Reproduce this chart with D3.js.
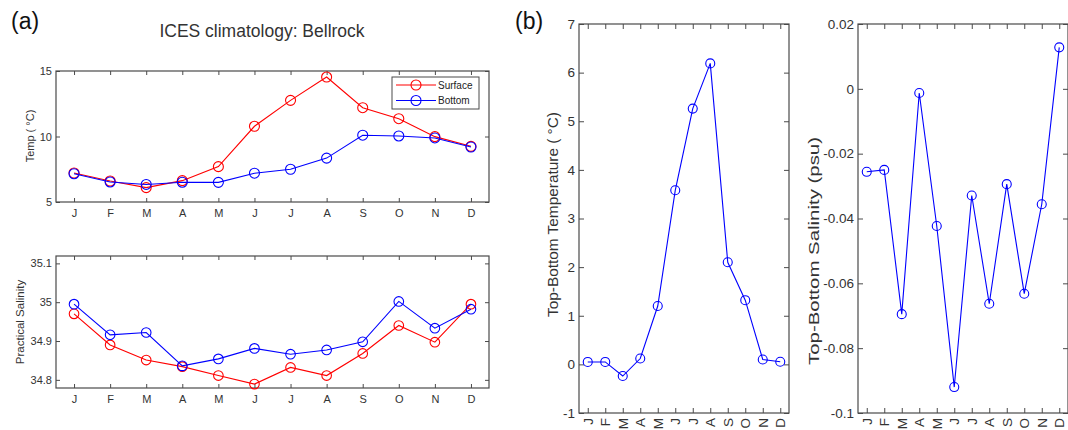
<!DOCTYPE html>
<html>
<head>
<meta charset="utf-8">
<script src="https://cdn.jsdelivr.net/npm/d3@7"></script>
<style>
  html, body { margin: 0; padding: 0; background: #fff; }
  svg { display: block; }
  text { font-family: "Liberation Sans", Arial, Helvetica, sans-serif; }
</style>
</head>
<body>
<svg id="fig" width="1068" height="430"></svg>
<script>
// Monthly climatology at Bellrock (ICES)
const months = ["J", "F", "M", "A", "M", "J", "J", "A", "S", "O", "N", "D"];

const tempSurface = [7.21, 6.60, 6.10, 6.63, 7.70, 10.78, 12.76, 14.54, 12.20, 11.36, 9.99, 9.25];
const tempBottom  = [7.16, 6.53, 6.34, 6.51, 6.50, 7.20, 7.50, 8.35, 10.10, 10.04, 9.89, 9.20];

const salSurface = [34.970, 34.890, 34.851, 34.834, 34.811, 34.789, 34.832, 34.811, 34.868, 34.940, 34.897, 34.995];
const salBottom  = [34.995, 34.916, 34.922, 34.836, 34.854, 34.881, 34.866, 34.877, 34.898, 35.002, 34.933, 34.982];

// Top minus bottom differences
const tempDiff = [0.05, 0.05, -0.24, 0.12, 1.20, 3.58, 5.26, 6.19, 2.10, 1.32, 0.10, 0.055];
const salDiff  = [-0.0256, -0.0250, -0.0695, -0.0013, -0.0423, -0.0920, -0.0329, -0.0663, -0.0294, -0.0632, -0.0356, 0.0128];

// Tick values
const tempTicks = [5, 10, 15];
const salTicks = [34.8, 34.9, 35, 35.1];
const tempDiffTicks = [-1, 0, 1, 2, 3, 4, 5, 6, 7];
const salDiffTicks = [-0.1, -0.08, -0.06, -0.04, -0.02, 0, 0.02];

const seriesColors = { surface: "#ff0000", bottom: "#0000ff" };
const axisColor = "#4a4a4a";
const textColor = "#333";
const fmt = d => String(+d.toFixed(3));

const svg = d3.select("#fig");

function panel(opts) {
  const { left, right, top, bottom, yDomain, yTicks, tick, fontSize, rotateMonths } = opts;
  const x = d3.scaleLinear().domain([0.5, 12.5]).range([left, right]);
  const y = d3.scaleLinear().domain(yDomain).range([bottom, top]);
  const idx = d3.range(1, 13);
  const g = svg.append("g");

  // inward ticks on all four sides
  const xb = g.append("g").attr("transform", `translate(0,${bottom})`)
    .call(d3.axisBottom(x).tickValues(idx).tickFormat(i => months[i - 1])
      .tickSizeInner(-tick).tickSizeOuter(0).tickPadding(7));
  g.append("g").attr("transform", `translate(0,${top})`)
    .call(d3.axisTop(x).tickValues(idx).tickFormat("").tickSizeInner(-tick).tickSizeOuter(0));
  g.append("g").attr("transform", `translate(${left},0)`)
    .call(d3.axisLeft(y).tickValues(yTicks).tickFormat(fmt)
      .tickSizeInner(-tick).tickSizeOuter(0).tickPadding(4));
  g.append("g").attr("transform", `translate(${right},0)`)
    .call(d3.axisRight(y).tickValues(yTicks).tickFormat("").tickSizeInner(-tick).tickSizeOuter(0));

  g.selectAll(".domain").remove();
  g.selectAll(".tick line").attr("stroke", axisColor);
  g.selectAll(".tick text").attr("fill", textColor).style("font-size", fontSize + "px")
    .style("font-family", "'Liberation Sans', Arial, sans-serif");

  if (rotateMonths) {
    xb.selectAll(".tick text")
      .attr("y", 0).attr("x", -5).attr("dy", "0.35em")
      .attr("transform", "rotate(-90)")
      .style("text-anchor", "end");
  }

  g.append("rect")
    .attr("x", left).attr("y", top)
    .attr("width", right - left).attr("height", bottom - top)
    .attr("fill", "none").attr("stroke", axisColor).attr("stroke-width", 1.2);

  return { g, x, y };
}

function series(p, values, color, r) {
  const line = d3.line().x((d, i) => p.x(i + 1)).y(d => p.y(d));
  p.g.append("path").datum(values)
    .attr("d", line).attr("fill", "none")
    .attr("stroke", color).attr("stroke-width", 1.1);
  p.g.selectAll(null).data(values).enter().append("circle")
    .attr("cx", (d, i) => p.x(i + 1)).attr("cy", d => p.y(d))
    .attr("r", r).attr("fill", "none")
    .attr("stroke", color).attr("stroke-width", 1.1);
}

function ylabel(text, cx, cy, size, length) {
  const t = svg.append("text")
    .attr("transform", `translate(${cx},${cy}) rotate(-90)`)
    .attr("text-anchor", "middle").attr("dy", "0.35em")
    .attr("fill", textColor).style("font-size", size + "px")
    .text(text);
  if (length) t.attr("textLength", length).attr("lengthAdjust", "spacingAndGlyphs");
}

// (a) upper: temperature
const pTemp = panel({ left: 56, right: 489, top: 71, bottom: 202,
  yDomain: [5, 15], yTicks: tempTicks, tick: 4, fontSize: 11 });
series(pTemp, tempSurface, seriesColors.surface, 5);
series(pTemp, tempBottom, seriesColors.bottom, 5);
ylabel("Temp ( °C)", 30, 136, 11);

// legend
const lg = pTemp.g.append("g");
lg.append("rect").attr("x", 392).attr("y", 77).attr("width", 87).attr("height", 32)
  .attr("fill", "#fff").attr("stroke", axisColor).attr("stroke-width", 1);
[["Surface", seriesColors.surface, 85], ["Bottom", seriesColors.bottom, 100.5]].forEach(([name, c, yy]) => {
  lg.append("line").attr("x1", 396).attr("x2", 436).attr("y1", yy).attr("y2", yy)
    .attr("stroke", c).attr("stroke-width", 1.1);
  lg.append("circle").attr("cx", 416).attr("cy", yy).attr("r", 5)
    .attr("fill", "none").attr("stroke", c).attr("stroke-width", 1.1);
  lg.append("text").attr("x", 438).attr("y", yy).attr("dy", "0.35em")
    .attr("fill", "#222").style("font-size", "10px").text(name);
});

// (a) lower: salinity
const pSal = panel({ left: 56, right: 489, top: 256, bottom: 388,
  yDomain: [34.779, 35.119], yTicks: salTicks, tick: 4, fontSize: 11 });
series(pSal, salSurface, seriesColors.surface, 4.8);
series(pSal, salBottom, seriesColors.bottom, 4.8);
ylabel("Practical Salinity", 20, 322, 11.5);

// (b) left: temperature difference
const pTd = panel({ left: 579, right: 789, top: 24, bottom: 413,
  yDomain: [-1, 7], yTicks: tempDiffTicks, tick: 5, fontSize: 13.5, rotateMonths: true });
series(pTd, tempDiff, seriesColors.bottom, 4.5);
ylabel("Top-Bottom Temperature ( °C)", 553, 214.5, 15, 205);

// (b) right: salinity difference
const pSd = panel({ left: 858, right: 1068, top: 24, bottom: 413,
  yDomain: [-0.1, 0.02], yTicks: salDiffTicks, tick: 5, fontSize: 13.5, rotateMonths: true });
series(pSd, salDiff, seriesColors.bottom, 4.5);
ylabel("Top-Bottom Salinity (psu)", 814, 251, 15.5, 228);

// titles and panel letters
svg.append("text").attr("x", 262).attr("y", 37).attr("text-anchor", "middle")
  .attr("fill", textColor).style("font-size", "17.5px").text("ICES climatology: Bellrock");
svg.append("text").attr("x", 11).attr("y", 29)
  .attr("fill", "#111").style("font-size", "23px").text("(a)");
svg.append("text").attr("x", 515).attr("y", 29)
  .attr("fill", "#111").style("font-size", "23px").text("(b)");
</script>
</body>
</html>
